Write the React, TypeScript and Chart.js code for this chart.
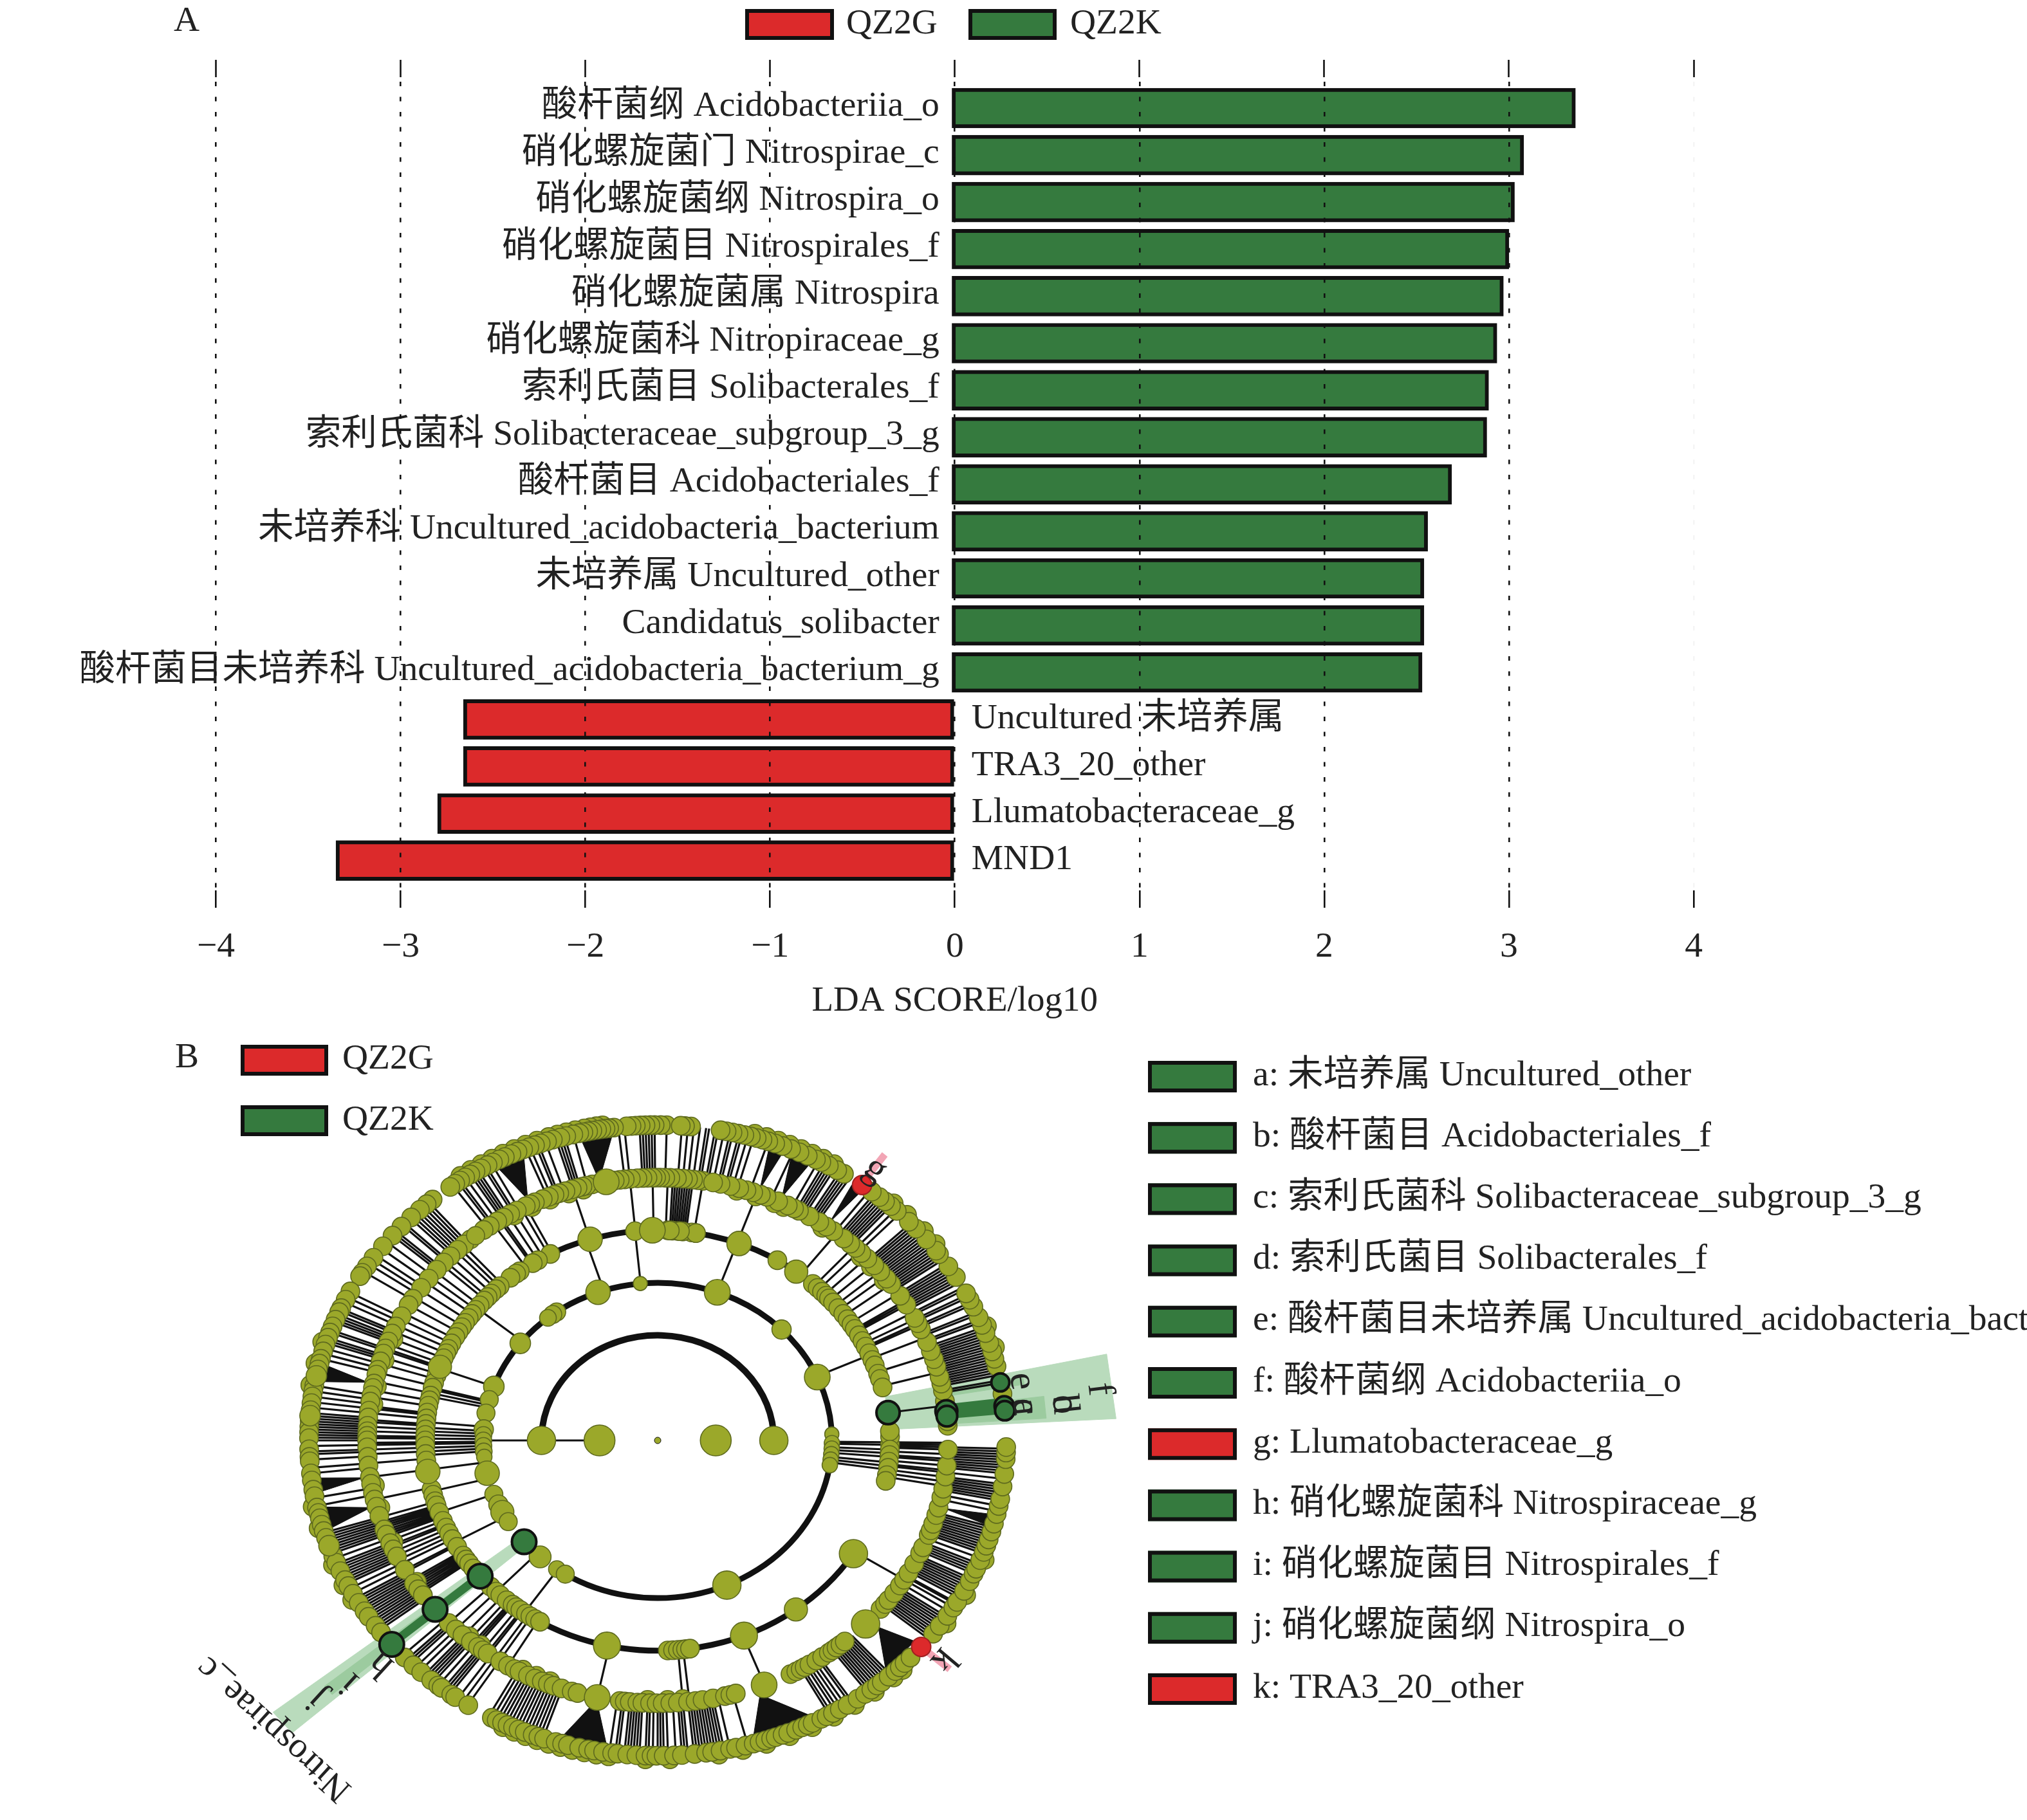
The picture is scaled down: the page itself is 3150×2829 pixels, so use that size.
import React, { useEffect, useRef } from "react";
import { Chart, registerables } from "chart.js";

Chart.register(...registerables);

const FONT = '"Liberation Serif","Noto Sans CJK SC",serif';
const RED = "#DC2A2B";
const GREEN = "#357A3E";
const BLACK = "#111111";
const TEXT = "#222222";
const OLIVE = "#9BA82A";
const OLIVE_EDGE = "#5E6A1E";
const TEXT_SIZE = 55.5;

// ---------- Panel A ----------
const qz2kLabels = [
  "酸杆菌纲 Acidobacteriia_o",
  "硝化螺旋菌门 Nitrospirae_c",
  "硝化螺旋菌纲 Nitrospira_o",
  "硝化螺旋菌目 Nitrospirales_f",
  "硝化螺旋菌属 Nitrospira",
  "硝化螺旋菌科 Nitropiraceae_g",
  "索利氏菌目 Solibacterales_f",
  "索利氏菌科 Solibacteraceae_subgroup_3_g",
  "酸杆菌目 Acidobacteriales_f",
  "未培养科 Uncultured_acidobacteria_bacterium",
  "未培养属 Uncultured_other",
  "Candidatus_solibacter",
  "酸杆菌目未培养科 Uncultured_acidobacteria_bacterium_g",
];
const qz2kValues = [3.36, 3.08, 3.03, 3.0, 2.97, 2.935, 2.89, 2.88, 2.69, 2.56, 2.54, 2.54, 2.53];
const qz2gLabels = ["Uncultured 未培养属", "TRA3_20_other", "Llumatobacteraceae_g", "MND1"];
const qz2gValues = [-2.66, -2.66, -2.8, -3.35];
const axisTitle = "LDA SCORE/log10";

// ---------- Panel B: legend ----------
const cladeKeys = [
  "a: 未培养属 Uncultured_other",
  "b: 酸杆菌目 Acidobacteriales_f",
  "c: 索利氏菌科 Solibacteraceae_subgroup_3_g",
  "d: 索利氏菌目 Solibacterales_f",
  "e: 酸杆菌目未培养属 Uncultured_acidobacteria_bacterium_g",
  "f: 酸杆菌纲 Acidobacteriia_o",
  "g: Llumatobacteraceae_g",
  "h: 硝化螺旋菌科 Nitrospiraceae_g",
  "i: 硝化螺旋菌目 Nitrospirales_f",
  "j: 硝化螺旋菌纲 Nitrospira_o",
  "k: TRA3_20_other",
];
const cladeKeyGroups = ["K", "K", "K", "K", "K", "K", "G", "K", "K", "K", "G"];

// ---------- Panel B: cladogram node angles (degrees) per ring ----------
const ring6 = [
  88.5, 89.5, 90.5, 91.2, 92, 92.8, 93.6, 94.3, 95.1, 97.2, 98, 98.6, 99.3, 100, 100.8, 101.5, 102.3, 103, 104, 105.2, 106.2,
  107.5, 108.5, 109.6, 110.6, 111.6, 112.7, 113.7, 114.8, 116, 117, 118.2, 119.2, 120.4, 121.5, 122.5, 123.5, 124.5, 125.5, 126.5,
  130.2, 131.5, 133, 135, 137.3, 139.5, 142, 144.6, 146.5, 147.9, 148.6, 151.8, 153.5, 155.2, 156, 157.5, 158.8, 160, 161, 162.3, 163.6, 165,
  165.9, 167, 168.2, 170, 171, 172, 173.2, 174.5, 175.5, 176.4, 177.5, 178.5, 179.6, -178.4, -177, -176.2, -174, -172.7, -171, -169.8, -167.7,
  -166.7, -165.7, -164.5, -163.3, -162, -160.5, -158.5, -157.2, -155.5, -153.7, -152.5, -150.9, -149, -147.2, -146, -144, -142.5, -136.5, -134.5,
  -132.7, -130.5, -129, -128.3, -126.3, -125.5, -122.9, -118.4, -117.5, -116.5, -115.5, -114.5, -113.5, -112.4, -111, -110, -109,
  -107, -105.9, -104.9, -103, -101.5, -100.5, -99, -97.5, -96.6, -95, -93.5, -92, -91, -90.2, -89, -87.3, -86, -83.9, -82, -81, -79.6,
  -78, -77, -75.4, -74, -73, -72, -71, -70.2, -69, -68, -66.6, -65.5, -64.5, -63.6, -62, -61, -59.8, -58.5, -57, -55, -53.5, -52.2, -51,
  -50, -48.5, -47, -46, -44.9, -43.5, -37.8, -36, -33.8, -32, -30.8, -28.5, -26.5, -25, -24, -22.3, -20.7, -19.5, -18.3, -16.8, -15.3, -13.5, -12, -10.7,
  -8.4, -6.1, -3.4, -2.2, -1.2, 8.5, 13.6, 15, 16.4, 18, 19.9, 21.5, 23, 25.1, 26.5, 27.8, 31.2, 33.5, 36.2, 37, 39.6, 42.2, 43.9, 46.7,
  48, 49.3, 50.5, 52.1, 57.7, 59, 60.6, 62, 63, 64.5, 66, 67.5, 69, 70.3, 71.5, 72.5, 73.5, 74.5, 75.6, 76.6, 77.6, 78.6, 79.6, 84.5,
  85.5, 86.2,
];
const ring6Outer = [
  99, 100, 101, 102, 103.5, 105, 106.5, 108, 110, 112, 114, 116, 118, 120, 122, 124, -116, -114, -112, -110, -108, -106, -104, -102, -100, -98, -92, -88, -80,
  -76, -72, -68, -64, -60, -56, -52, -48, -46, 60, 62, 64, 66, 68, 70, 72, 74, 48, 45, 41, 38, 21, 17, -22, -29, -35, -150, -153, -157, -164, -168, 170, 166, 162,
];
const ring5 = [
  81, 82, 83, 84, 85, 86.2, 87.5, 88.5, 89.5, 90.3, 91, 92, 93, 94, 95.3, 96.5, 97.5, 98.5, 101.5, 103, 104.2, 105, 106, 107.2, 108.5,
  109.8, 110.8, 112, 113.3, 115, 116, 117, 119, 120.5, 122, 123.5, 125.3, 126.8, 130.1, 131.8, 133.5, 135.5, 137.4, 139.5, 142, 144.5,
  147.4, 149, 151.8, 154.3, 156, 157.9, 159.5, 160.7, 162.5, 164.4, 165.5, 167.5, 168.5, 170.1, 171.5, 173.5, 175, 176.8, 178, 179,
  180, -178.5, -176.4, -174.5, -172, -170.5, -168.5, -167, -165.4, -163.3, -160.2, -159, -157, -155.5, -153.8, -150.5, -147, -145.5,
  -143.9, -136, -134, -132.2, -130, -128.2, -127, -125.8, -122.8, -121, -119.5, -118.4, -116.5, -115, -113.5, -112.2, -111, -109.3,
  -107.2, -106, -97.5, -96.5, -95.5, -94, -93, -91.5, -90.2, -89, -87.5, -86, -84, -82.5, -81.1, -79, -76.6, -75.5, -74.4, -62.8, -61.5,
  -60.5, -59.6, -58.5, -56.9, -55.5, -53.9, -53, -52, -51, -49.9, -39.9, -38.5, -37.4, -35.5, -33.5, -32, -30.3, -28, -25.4, -24, -21.1,
  -20, -18.5, -16.5, -14.8, -12.5, -10.6, -7.9, -5.5, -2, 3.2, 4.2, 8.6, 10.9, 12.5, 14, 16.3, 18, 19.9, 22, 25, 26.5, 27.8, 31.1, 33.4,
  36.5, 38, 40, 41.8, 43.8, 45.5, 47.1, 48.5, 50.2, 52.8, 54.5, 56.2, 58.5, 60.9, 62, 63.4, 65.5, 68, 69.2, 70.8, 72.2, 73.7, 75.5, 77.5, 79,
];
const ring5Inner = [105, 108, 112, 116, 120, -112, -115, -118, -92, -88, -85, 64, 66, 70, 74, 55, 45, 42, 38, -128, -131, -147, -157, -165, -170, 172, 168, 162, 157];
const ring4 = [
  80.6, 81.6, 83.8, 85, 86.4, 87.5, 95.6, 117.5, 121, 122.5, 126.4, 127.5, 129.3, 132.8, 134, 135.7, 137, 138.3, 140, 141.6, 143, 144.4, 146,
  147.4, 149, 150.5, 152.5, 154.2, 155.5, 157, 162, 164.1, 165.5, 167.7, 169, 170.5, 172.4, 174, 175.5, 177, 178.5, 180, -178.5, -176.3, -174.5,
  -166.6, -165, -163.2, -162, -160, -157.5, -155.5, -153.8, -152, -149.6, -146.8, -145.5, -144.2, -142.5, -135.9, -134, -132.6, -130.5, -128.6,
  -127.5, -126.2, -124.5, -123.2, -121.8, -120.4, -87.5, -86.2, -85, -83.9, -83, -82, 80.5, 84.5, 87, 59, 48.1, 46.5, 45, 43.5, 42.5, 41, 39, 37,
  35.2, 33.5, 32, 30, 28.2, 26.5, 24.5, 22.5, 20.9, 18.5, 17, 14.6, -1, 1, 2.5, -2.5, -4, -5.8, -7.5, -9.5, -11.1,
];
const ring6Big: number[] = [168.2, -160.5, 175.5];
const ring5Big = [100.2, -102, -68.5, -44.3, 128.8];
const ring5BigSizes = [20, 20, 20, 22, 14];
const ring4Big = [106.9, 91.3, 159.5, -171.5, -102.6, -68.2, -53.5, -32.6, 69.5, 53.4];
const ring4BigSizes = [19, 20, 18, 19, 21, 21, 18, 22, 19, 18];
const ring3 = [160, 165, 170, 176, 178, 180, -178, -176, -174, 142, 125.4, 127, 129, 110, 95.7, 70, 44.7, 23.7, 2.3, -1, -3, -5, -7, -9, -66.6, -168, -160, -156, -153, -149, -132.4, -125.3, -122];
const ring3Sizes = [16, 14, 14, 15, 13, 13, 13, 13, 12, 16, 14, 14, 13, 19, 11, 20, 15, 20, 11, 12, 12, 12, 12, 12, 22, 19, 14, 15, 18, 14, 17, 13, 14];
const ring2 = [180, 0];
const ring1 = [180, 0];
const darkNodes = [
  [3, -140], [4, -139.8], [5, -140], [6, -139.7], [4, 7.6], [5, 6.4], [5, 5.3], [6, 10.6], [6, 6.3], [6, 5.4],
];
const darkSizes = [19, 19, 19, 19, 18, 17, 16, 14, 15, 15];
const redNodes = [[6, 54.1], [6, -40.9]];

// black lines joining one ring to the next
const spokes34 = [
  95.6, 108, 70, 24, 141, 160, 165.5, 166, 167, 168, 175, 176.5, 177.5, 178.5, 179.5, -179.5, -179, -178, -177, -176, -172, -166, -160, -151, -134, -125,
  -0.5, -1.2, -2.5, -3.5, -4.5, -6, -7, -8,
];
const spokes45 = [
  95.5, 91, 88, 87, 86.5, 86, 85.5, 85, 84.5, 84, 83.5, 83, 81, 107, 70, 124.5, 123, 122.5, 121, 119.5, 118, 117, 141.5, 140, 138, 137, 135.5, 134, 133, 132,
  143, 145, 147, 149, 151, 152.5, 154, 155.5, 157, 158.5, 159.5, 160, 161.5, 163, 165, 167, 169, 170.5, 172.5, 173, 174, 175.5, 176, 177, 178, 179, 179.5,
  -179.5, -179, -178, -177, -175, -172, -167, -163, -162, -161.5, -161, -160.5, -160, -159.5, -159, -158.5, -157.5, -156.5, -156, -155, -154, -153, -152,
  -150.5, -150, -148, -147.5, -147, -146.5, -146, -145.5, -145, -144.5, -136, -134, -132, -130.5, -129.5, -129, -128.5, -127, -126, -125.5, -124, -123, -121,
  -102, -85, -83.7, -68.4, -32, 47.5, 46, 44, 42, 40, 38.5, 36.5, 34, 32, 31.5, 31, 29, 27.5, 26.5, 26, 23, 19, 15, 7.6, 52,
  -0.5, -1, -1.5, -2, -3, -4, -4.5, -5.5, -6.5, -7, -8, -9, -10,
];
const spokes56 = [
  80, 80.5, 81.5, 82, 83, 84, 85, 86, 88.5, 90.5, 91, 91.5, 92, 92.5, 93, 95.5, 96.5, 104, 105.5, 106, 106.5, 107, 108.8, 110, 110.5, 111.5, 112.3,
  118.5, 119.5, 120, 121, 121.5, 122, 122.5, 123.5, 124.5, 125, 126, 131, 131.6, 132.2, 132.8, 133.4, 134, 134.6, 135.2, 136.5, 137, 138.5, 139, 139.5, 141,
  142.5, 144, 145, 146, 147.6, 152, 153, 154, 155.3, 155.8, 156.5, 157, 157.5, 158, 159.5, 160, 161, 161.5, 162, 163, 164, 165, 170, 171, 172, 173, 174,
  175, 175.5, 176, 176.5, 177, 177.5, 178, 178.5, 179, 179.5, 180, -179, -178, -177.5, -176.5, -175, -174, -169.5, -168,
  -163, -162.5, -162, -161.5, -161, -160.5, -160, -159.5, -159, -158, -157, -156.5, -156, -155.5, -155, -154.5, -154, -153.5, -153, -152, -151, -150, -149.5, -149,
  -148.5, -148, -147.5, -147, -146.5, -146, -145.5, -145, -144.5, -144, -143.5, -143, -137, -136, -135.5, -135, -134, -133, -132, -131.5, -131, -130.5, -130, -129, -128,
  -127.5, -127, -126.5, -125, -124, -123, -119, -118.3, -117.6, -117, -116.4, -115.8, -115.2, -114.6, -114, -113.4, -112.8, -112.2, -111.6, -111, -110.4, -109.8, -109.2,
  -98, -97, -96.5, -95.5, -95, -94.5, -94, -93.5, -93, -92, -91.5, -90.8, -90, -89.5, -89, -88.3, -87, -86, -85.5, -85, -84, -83.5, -83, -82.5, -82, -81.5, -81, -80.5, -80,
  -79.5, -79, -78, -75, -60.5, -60, -59.3, -58.7, -58, -57.3, -56.5, -56, -53, -52.5, -52, -51.5, -51, -50.5, -50, -49.5, -49, -48.5, -48,
  -39, -38.5, -38, -37.5, -37, -36.5, -36, -35.5, -35, -34.5, -34, -33, -32, -31.3, -31, -30, -29.5, -29, -28.5, -28, -27.5, -27, -26.5, -26, -25, -24.5, -24, -23.5, -23,
  -22, -21, -20.5, -20, -19.5, -19, -18.5, -18, -17.5, -17, -16.5, -16, -13, -12, -11, -10.5, -10, -9.5, -9, -8.5, -8, -7, -6, -5.5, -5, -4.5, -4, -3.5, -3, -2.5, -2, -1.5,
  79, 78, 77.5, 76.5, 76, 75, 74, 71.5, 67, 62.5, 61.5, 61, 60.5, 60, 59.5, 58.5, 58, 57.5, 57, 56.5, 52.5, 51.5, 51, 50.5, 50, 49.5, 49, 48.5, 48, 47, 46,
  43.5, 43, 42.5, 42, 41.5, 41, 40.5, 40, 39.5, 39, 38.5, 38, 37.5, 37, 36.5, 36, 35.5, 35, 34, 33.5, 33, 32.5, 32, 31.5, 31, 30.5, 30, 29, 28.5, 27.5, 27, 26, 25.5, 24,
  23.5, 22.5, 22, 21, 20.5, 20, 19.5, 19, 18.5, 18, 17.5, 17, 16.5, 16, 15.5, 15, 14.5, 14, 13.5, 13, 12.5, 12, 11, 10.5,
];
// fans of lines that merge to solid black: [inner ring, inner from, inner to, outer ring, outer from, outer to]
const blackFans = [
  [5.05, 101.5, 101.5, 5.9, 97.5, 103],
  [5.1, 116, 116, 5.9, 113, 118],
  [5.1, 167.5, 167.5, 5.85, 166, 169],
  [5.1, -172, -172, 5.85, -173, -170.5],
  [5.1, -165.5, -165.5, 5.85, -167.5, -163.5],
  [5.05, -102, -102, 5.9, -106.4, -98.5],
  [5.15, -70, -70, 5.85, -73.6, -63.4],
  [5.2, -43.1, -43.1, 5.85, -47.9, -40.8],
  [5.1, 69.8, 69.8, 5.9, 68.5, 71],
  [5.1, 65.2, 65.2, 5.9, 63.5, 67],
  [5.1, 54.5, 54.5, 5.9, 53.5, 55.5],
  [5.1, -14.7, -14.7, 5.85, -15.8, -13.8],
];
// shaded highlight sectors: [ring from, ring to, angle from, angle to]
const paleSectors = [[4, 7.9, 3, 12], [3, 8.4, -142, -138.5]];
const midSectors = [[5, 6.7, 3.6, 7.2], [5.1, 6.4, 9.6, 11], [4, 7.4, -140.8, -139.2]];
const arcs = [
  [2, 178, 5, 10],
  [3, 162, 0, 9],
  [3, -10, -122, 9],
  [4, 117, 53, 9],
  [4, -33, -120, 9],
];
const cladeLetters: [string, number, number, number][] = [
  ["e", 6.36, 10.2, 82],
  ["c", 6.34, 5.8, 84],
  ["a", 6.34, 5.8, 84],
  ["d", 7.02, 5.6, 84],
  ["b", 7.02, 5.6, 84],
  ["f", 7.66, 7.3, 83],
  ["g", 6.37, 54, 36],
  ["k", 6.45, -40.3, 130],
  ["h", 6.38, -138.2, 222.4],
  ["i", 7.02, -139, 222.4],
  ["j", 7.65, -140.1, 222.4],
];
const pinkRays = [[6.1, 6.7, 54.3], [6.1, 6.65, -40.9]];
const darkRays = [[4, 6, -139.8], [5, 6, 5.6], [5, 6, 7]];
const nitroLabel: [string, number, number, number] = ["Nitrospirae_c", 8.58, -140.3, 222.4];

const rad = (d: number) => (d * Math.PI) / 180;
const polar = (level: number, deg: number) => ({ x: level * Math.cos(rad(deg)), y: level * Math.sin(rad(deg)) });
const GAP = { x: null, y: null };
const raysOf = (r1: number, r2: number, list: number[]) => list.flatMap((a) => [polar(r1, a), polar(r2, a), GAP]);
const sectorOf = (r1: number, r2: number, a: number, b: number) => [polar(r1, a), polar(r2, a), polar(r2, b), polar(r1, b)];
const nodesOf = (level: number, list: number[]) => list.map((a) => polar(level, a));

function swatch(ctx: CanvasRenderingContext2D, x: number, y: number, w: number, h: number, fill: string) {
  ctx.fillStyle = fill;
  ctx.fillRect(x, y, w, h);
  ctx.strokeStyle = BLACK;
  ctx.lineWidth = 6;
  ctx.strokeRect(x + 3, y + 3, w - 6, h - 6);
}
function label(ctx: CanvasRenderingContext2D, s: string, x: number, y: number, align: CanvasTextAlign = "left", size = TEXT_SIZE) {
  ctx.font = `${size}px ${FONT}`;
  ctx.fillStyle = TEXT;
  ctx.textAlign = align;
  ctx.textBaseline = "middle";
  ctx.fillText(s, x, y);
}

export default function App() {
  const aRef = useRef<HTMLCanvasElement>(null);
  const bRef = useRef<HTMLCanvasElement>(null);

  useEffect(() => {
    const tickLen = 27;
    const a = new Chart(aRef.current!, {
      type: "bar",
      data: {
        datasets: [
          {
            label: "QZ2K",
            data: qz2kValues.map((x, i) => ({ x, y: i })),
            backgroundColor: GREEN,
            borderColor: BLACK,
            borderWidth: 6,
            borderSkipped: false,
            barThickness: 62,
            grouped: false,
            base: -0.015,
          },
          {
            label: "QZ2G",
            data: qz2gValues.map((x, i) => ({ x, y: qz2kValues.length + i })),
            backgroundColor: RED,
            borderColor: BLACK,
            borderWidth: 6,
            borderSkipped: false,
            barThickness: 62,
            grouped: false,
          },
        ],
      } as any,
      options: {
        indexAxis: "y",
        responsive: false,
        animation: false,
        devicePixelRatio: 1,
        layout: { padding: { left: 0, right: 518, top: 0, bottom: 0 }, autoPadding: false },
        plugins: { legend: { display: false }, tooltip: { enabled: false } },
        scales: {
          y: {
            type: "linear",
            reverse: true,
            offset: false,
            min: -0.656,
            max: 16.634,
            ticks: { display: false },
            grid: { display: false },
            border: { display: false },
            afterFit: (s: any) => { s.width = 335.5; },
          },
          x: {
            type: "linear",
            position: "bottom",
            min: -4,
            max: 4,
            afterFit: (s: any) => { s.height = 206; },
            ticks: {
              stepSize: 1,
              maxRotation: 0,
              padding: 28,
              color: TEXT,
              font: { family: FONT, size: TEXT_SIZE },
              callback: (v: any) => (v < 0 ? "−" + -v : String(v)),
            },
            title: { display: true, text: axisTitle, color: TEXT, font: { family: FONT, size: 55 }, padding: { top: 0, bottom: 0 } },
            border: { display: false, dash: [7, 16.5], dashOffset: 16.5 },
            grid: {
              z: 1,
              lineWidth: 2.6,
              tickWidth: 2.6,
              tickLength: tickLen,
              tickColor: BLACK,
              tickBorderDash: [],
              color: (c: any) => (c.tick && c.tick.value === 4 ? "rgba(0,0,0,0.04)" : BLACK),
            },
          },
          x2: {
            type: "linear",
            axis: "x",
            position: "top",
            min: -4,
            max: 4,
            afterFit: (s: any) => { s.height = 120; },
            ticks: { stepSize: 1, display: false },
            border: { display: false },
            grid: { drawOnChartArea: false, tickLength: tickLen, tickWidth: 2.6, tickColor: BLACK },
          },
        },
      } as any,
      plugins: [
        {
          id: "panelA",
          afterDatasetsDraw(chart: any) {
            const ctx = chart.ctx as CanvasRenderingContext2D;
            const y = chart.scales.y;
            const x = chart.scales.x;
            ctx.save();
            qz2kLabels.forEach((s, i) => label(ctx, s, x.getPixelForValue(0) - 24, y.getPixelForValue(i) - 3, "right"));
            qz2gLabels.forEach((s, i) => label(ctx, s, x.getPixelForValue(0) + 26, y.getPixelForValue(qz2kLabels.length + i) - 1, "left"));
            label(ctx, "A", 270, 33);
            swatch(ctx, 1158, 14, 138, 48, RED);
            label(ctx, "QZ2G", 1315, 37);
            swatch(ctx, 1505, 14, 137, 48, GREEN);
            label(ctx, "QZ2K", 1663, 37);
            ctx.restore();
          },
        },
      ],
    });

    const lines = (data: any[], color: string, width: number, order: number) => ({
      data, showLine: true, borderColor: color, borderWidth: width, pointRadius: 0, order, fill: false,
    });
    const polygon = (pts: any[], color: string, order: number) => ({
      data: pts, showLine: true, fill: "shape", backgroundColor: color, borderColor: color, borderWidth: 1, pointRadius: 0, order,
    });
    const nodes = (data: any[], radius: any, color: string, edge: string, edgeWidth: number, order: number) => ({
      data, showLine: false, pointRadius: radius, backgroundColor: color, borderColor: edge, borderWidth: edgeWidth, order,
    });

    const b = new Chart(bRef.current!, {
      type: "scatter",
      data: {
        datasets: [
          ...paleSectors.map((s) => polygon(sectorOf(s[0], s[1], s[2], s[3]), "#B9DBBC", 90)),
          ...midSectors.map((s) => polygon(sectorOf(s[0], s[1], s[2], s[3]), "#9CCB9F", 89)),
          ...blackFans.map((f) => polygon([polar(f[0], f[1]), polar(f[3], f[4]), polar(f[3], f[5]), polar(f[0], f[2])], BLACK, 70)),
          lines(pinkRays.flatMap((p) => [polar(p[0], p[2]), polar(p[1], p[2]), GAP]), "#F2A5B5", 11, 80),
          lines(raysOf(1, 3, [180]), BLACK, 3, 60),
          lines(raysOf(3, 4, spokes34), BLACK, 3.2, 60),
          lines(raysOf(4, 5, spokes45), BLACK, 3.2, 60),
          lines(raysOf(5, 6, spokes56), BLACK, 3.2, 60),
          lines(darkRays.flatMap((p) => [polar(p[0], p[2]), polar(p[1], p[2]), GAP]), GREEN, 13, 55),
          nodes(nodesOf(6.07, ring6Outer), 14.5, OLIVE, OLIVE_EDGE, 1.6, 41),
          nodes(nodesOf(6, ring6), 14.5, OLIVE, OLIVE_EDGE, 1.6, 40),
          nodes(nodesOf(6, ring6Big), 16, OLIVE, OLIVE_EDGE, 1.6, 39),
          nodes(nodesOf(4.94, ring5Inner), 14.5, OLIVE, OLIVE_EDGE, 1.6, 38.5),
          nodes(nodesOf(5, ring5), 14.5, OLIVE, OLIVE_EDGE, 1.6, 38),
          nodes(nodesOf(5, ring5Big), ring5BigSizes, OLIVE, OLIVE_EDGE, 1.6, 37),
          nodes(nodesOf(4, ring4), 14.5, OLIVE, OLIVE_EDGE, 1.6, 36),
          nodes(nodesOf(4, ring4Big), ring4BigSizes, OLIVE, OLIVE_EDGE, 1.6, 35),
          nodes(nodesOf(3, ring3), ring3Sizes, OLIVE, OLIVE_EDGE, 1.6, 34),
          nodes(nodesOf(2, ring2), 22, OLIVE, OLIVE_EDGE, 1.6, 33),
          nodes(nodesOf(1, ring1), 24, OLIVE, OLIVE_EDGE, 1.6, 33),
          nodes([{ x: 0, y: 0 }], 5, OLIVE, BLACK, 1, 33),
          nodes(darkNodes.map((n) => polar(n[0], n[1])), darkSizes, GREEN, BLACK, 4, 20),
          nodes(redNodes.map((n) => polar(n[0], n[1])), 15, RED, "#A02020", 2, 20),
        ],
      } as any,
      options: {
        responsive: false,
        animation: false,
        devicePixelRatio: 1,
        layout: { padding: 0, autoPadding: false },
        plugins: { legend: { display: false }, tooltip: { enabled: false } },
        scales: {
          x: { type: "linear", display: false, min: -11.318, max: 23.566 },
          y: { type: "linear", display: false, min: -7.222, max: 7.944 },
        },
      } as any,
      plugins: [
        {
          id: "arcs",
          beforeDatasetsDraw(chart: any) {
            const ctx = chart.ctx as CanvasRenderingContext2D;
            const { x, y } = chart.scales;
            const cx = x.getPixelForValue(0);
            const cy = y.getPixelForValue(0);
            const ux = x.getPixelForValue(1) - cx;
            const uy = cy - y.getPixelForValue(1);
            ctx.save();
            ctx.strokeStyle = BLACK;
            arcs.forEach(([r, from, to, w]) => {
              ctx.beginPath();
              ctx.lineWidth = w;
              ctx.ellipse(cx, cy, r * ux, r * uy, 0, rad(-from), rad(-to), false);
              ctx.stroke();
            });
            ctx.restore();
          },
        },
        {
          id: "panelB",
          afterDatasetsDraw(chart: any) {
            const ctx = chart.ctx as CanvasRenderingContext2D;
            const { x, y } = chart.scales;
            const top = 1590;
            ctx.save();
            label(ctx, "B", 272, 1644 - top);
            swatch(ctx, 374, 1624 - top, 136, 48, RED);
            label(ctx, "QZ2G", 532, 1646 - top);
            swatch(ctx, 374, 1718 - top, 136, 48, GREEN);
            label(ctx, "QZ2K", 532, 1741 - top);
            cladeKeys.forEach((s, i) => {
              const rowY = 1649 + i * 95.2 - top;
              swatch(ctx, 1784, rowY, 138, 49, cladeKeyGroups[i] === "G" ? RED : GREEN);
              label(ctx, s, 1947, rowY + 23);
            });
            [...cladeLetters, nitroLabel].forEach(([s, r, ang, rot]) => {
              const p = polar(r, ang);
              ctx.save();
              ctx.translate(x.getPixelForValue(p.x), y.getPixelForValue(p.y));
              ctx.rotate(rad(rot));
              label(ctx, s, 0, 0, "center", s.length > 1 ? 56 : 60);
              ctx.restore();
            });
            ctx.restore();
          },
        },
      ],
    });
    return () => {
      a.destroy();
      b.destroy();
    };
  }, []);

  return (
    <div style={{ position: "absolute", left: 0, top: 0, width: 3150, height: 2829, background: "#fff", overflow: "hidden" }}>
      <canvas ref={aRef} width={3150} height={1590} style={{ position: "absolute", left: 0, top: 0, width: 3150, height: 1590 }} />
      <canvas ref={bRef} width={3150} height={1239} style={{ position: "absolute", left: 0, top: 1590, width: 3150, height: 1239 }} />
    </div>
  );
}
